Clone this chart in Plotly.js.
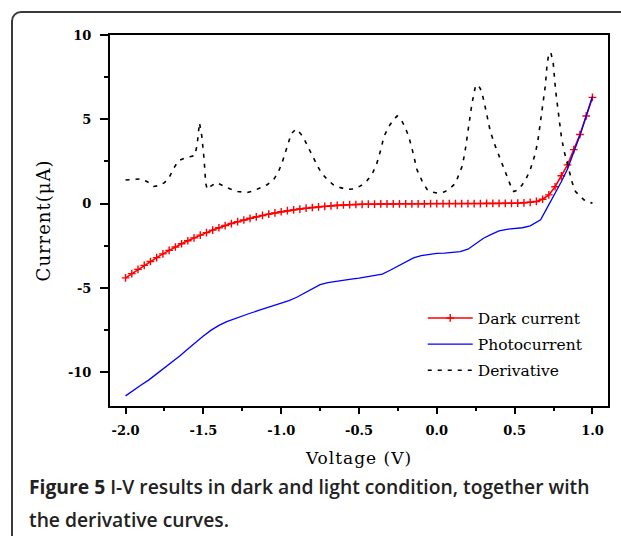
<!DOCTYPE html>
<html>
<head>
<meta charset="utf-8">
<script src="https://cdn.plot.ly/plotly-3.0.1.min.js"></script>
<style>
  html, body { margin: 0; padding: 0; background: #fff; }
  #wrap { position: relative; width: 621px; height: 536px; overflow: hidden; }
  #chart { position: absolute; left: 0; top: 0; width: 621px; height: 536px; }
  #frame { position: absolute; left: 11px; top: 11px; width: 700px; height: 600px;
           border: 2px solid #3a3a3a; border-radius: 10px; pointer-events: none; box-sizing: border-box; }
  .xtitle, .ytitle { letter-spacing: 1px; }
</style>
</head>
<body>
<div id="wrap">
  <div id="chart"></div>
  <div id="frame"></div>
</div>
<script>
// ---- data ----
const darkV = [-2.00,-1.96,-1.92,-1.88,-1.84,-1.80,-1.76,-1.72,-1.68,-1.64,-1.60,-1.56,-1.52,-1.48,-1.44,-1.40,-1.36,-1.32,-1.28,-1.24,
  -1.20,-1.16,-1.12,-1.08,-1.04,-1.00,-0.96,-0.92,-0.88,-0.84,-0.80,-0.76,-0.72,-0.68,-0.64,-0.60,-0.56,-0.52,-0.48,-0.44,
  -0.40,-0.36,-0.32,-0.28,-0.24,-0.20,-0.16,-0.12,-0.08,-0.04,0.00,0.04,0.08,0.12,0.16,0.20,0.24,0.28,0.32,0.36,
  0.40,0.44,0.48,0.52,0.56,0.60,0.64,0.68,0.72,0.76,0.80,0.84,0.88,0.92,0.96,1.00];
const darkI = [-4.40,-4.15,-3.90,-3.66,-3.43,-3.20,-2.98,-2.77,-2.57,-2.38,-2.20,-2.03,-1.87,-1.72,-1.57,-1.43,-1.30,-1.18,-1.07,-0.97,
  -0.87,-0.78,-0.70,-0.62,-0.55,-0.48,-0.42,-0.37,-0.32,-0.27,-0.23,-0.19,-0.16,-0.13,-0.10,-0.08,-0.06,-0.05,-0.04,-0.03,
  -0.03,-0.02,-0.02,-0.02,-0.01,-0.01,-0.01,-0.01,-0.01,0.00,0.00,0.00,0.00,0.00,0.00,0.00,0.00,0.00,0.01,0.01,
  0.01,0.02,0.02,0.03,0.05,0.08,0.13,0.26,0.52,1.00,1.65,2.30,3.20,4.10,5.20,6.30];

const photoV = [-2.00,-1.95,-1.90,-1.85,-1.80,-1.75,-1.70,-1.65,-1.60,-1.55,-1.50,-1.45,-1.40,-1.35,-1.30,-1.25,-1.20,-1.15,-1.10,-1.05,
  -1.00,-0.95,-0.90,-0.85,-0.80,-0.75,-0.70,-0.65,-0.60,-0.55,-0.50,-0.45,-0.40,-0.35,-0.30,-0.25,-0.20,-0.15,-0.10,-0.05,
  0.00,0.05,0.10,0.15,0.20,0.25,0.30,0.35,0.40,0.45,0.50,0.55,0.60,0.64,0.667,0.70,0.73,0.76,0.80,0.84,0.88,0.92,0.96,1.00];
const photoI = [-11.40,-11.05,-10.75,-10.45,-10.10,-9.75,-9.40,-9.02,-8.62,-8.22,-7.85,-7.50,-7.22,-7.00,-6.82,-6.65,-6.50,-6.35,-6.20,-6.05,
  -5.92,-5.75,-5.55,-5.30,-5.05,-4.80,-4.68,-4.60,-4.55,-4.48,-4.42,-4.35,-4.28,-4.18,-3.95,-3.70,-3.45,-3.22,-3.08,-3.00,
  -2.95,-2.93,-2.90,-2.85,-2.70,-2.35,-2.05,-1.82,-1.62,-1.52,-1.48,-1.43,-1.32,-1.12,-0.96,-0.40,0.10,0.60,1.30,2.05,3.00,4.05,5.20,6.35];

const derivV = [-2.00,-1.95,-1.90,-1.86,-1.82,-1.78,-1.75,-1.72,-1.69,-1.66,-1.62,-1.58,-1.555,-1.54,-1.525,-1.51,-1.495,-1.485,-1.475,-1.45,
  -1.415,-1.37,-1.33,-1.28,-1.22,-1.18,-1.14,-1.09,-1.05,-1.02,-0.995,-0.965,-0.935,-0.905,-0.875,-0.855,-0.825,-0.795,-0.765,-0.74,
  -0.70,-0.665,-0.62,-0.575,-0.53,-0.49,-0.45,-0.415,-0.385,-0.36,-0.34,-0.31,-0.28,-0.255,-0.23,-0.205,-0.18,-0.155,-0.127,-0.095,
  -0.063,-0.03,0.01,0.05,0.09,0.12,0.14,0.162,0.18,0.195,0.21,0.226,0.248,0.265,0.28,0.291,0.307,0.323,0.344,0.377,
  0.409,0.43,0.452,0.475,0.494,0.52,0.548,0.575,0.60,0.634,0.652,0.667,0.687,0.698,0.708,0.72,0.733,0.748,0.763,0.784,
  0.80,0.816,0.848,0.87,0.891,0.92,0.945,0.97,1.00];
const derivI = [1.40,1.45,1.47,1.30,1.02,1.08,1.25,1.55,2.10,2.55,2.70,2.80,2.85,3.50,4.80,4.00,2.60,1.20,0.85,1.05,
  1.25,1.05,0.88,0.72,0.66,0.75,0.92,1.12,1.40,1.85,2.40,3.30,4.15,4.42,4.15,3.88,3.30,2.75,2.20,1.80,
  1.40,1.12,0.95,0.84,0.88,1.05,1.35,1.75,2.40,3.20,3.97,4.55,4.95,5.20,5.00,4.55,3.97,3.10,2.00,1.35,
  0.85,0.68,0.62,0.70,0.95,1.21,1.65,2.20,3.00,3.97,4.90,5.95,6.94,7.05,6.80,6.54,5.90,5.16,4.27,3.38,
  2.60,2.10,1.60,1.05,0.72,0.80,1.11,1.50,2.00,3.00,3.90,4.96,6.15,7.04,8.20,8.92,8.95,8.33,6.74,4.96,
  4.00,3.19,2.00,1.25,0.72,0.45,0.23,0.10,0.03];

const xTickVals = [-2.0,-1.5,-1.0,-0.5,0.0,0.5,1.0];
const xTickText = ['-2.0','-1.5','-1.0','-0.5','0.0','0.5','1.0'];
const yTickVals = [-10,-5,0,5,10];
const yTickText = ['-10','-5','0','5','10'];

const seriesNames = ['Dark current','Photocurrent','Derivative'];
const captionLine1 = '<b>Figure 5</b> I-V results in dark and light condition, together with';
const captionLine2 = 'the derivative curves.';

// ---- chart ----
const serif = 'DejaVu Serif, serif';
const traces = [
  { x: darkV, y: darkI, name: seriesNames[0], type: 'scatter', mode: 'lines+markers',
    legendgroup: 'a',
    line: { color: '#ff0000', width: 1.6 },
    marker: { symbol: 'cross-thin', size: 5.5, color: '#ff0000', line: { color: '#ff0000', width: 1.4 } } },
  { x: photoV, y: photoI, name: seriesNames[1], type: 'scatter', mode: 'lines',
    legendgroup: 'b',
    line: { color: '#0000ff', width: 1.3 } },
  { x: derivV, y: derivI, name: seriesNames[2], type: 'scatter', mode: 'lines',
    legendgroup: 'c',
    line: { color: '#000000', width: 1.6, dash: '4px,6px' } }
];

const axisCommon = {
  showgrid: false, zeroline: false, showline: true, linecolor: '#000', linewidth: 2, mirror: true,
  ticks: 'outside', tickcolor: '#000', tickwidth: 2,
  tickfont: { family: serif, size: 13, color: '#000', weight: 'bold' },
  tickmode: 'array'
};

const layout = {
  width: 621, height: 536,
  margin: { l: 110, r: 13, t: 35, b: 130 },
  paper_bgcolor: '#fff', plot_bgcolor: '#fff',
  showlegend: true,
  xaxis: Object.assign({}, axisCommon, {
    range: [-2.1, 1.1], tickvals: xTickVals, ticktext: xTickText, ticklen: 6, ticklabelstandoff: 5,
    minor: { dtick: 0.25, ticks: 'outside', ticklen: 3, tickwidth: 2, tickcolor: '#000' },
    title: { text: 'Voltage (V)', font: { family: serif, size: 17, color: '#000' }, standoff: 16 }
  }),
  yaxis: Object.assign({}, axisCommon, {
    range: [-12, 10], tickvals: yTickVals, ticktext: yTickText, ticklen: 8, ticklabelstandoff: 6,
    minor: { dtick: 2.5, ticks: 'outside', ticklen: 4, tickwidth: 2, tickcolor: '#000' },
    title: { text: 'Current(μA)', font: { family: serif, size: 18, color: '#000' }, standoff: 13 }
  }),
  legend: {
    x: 0.628, y: 0.282, xanchor: 'left', yanchor: 'top',
    bgcolor: 'rgba(0,0,0,0)', borderwidth: 0,
    font: { family: serif, size: 15.5, color: '#000' },
    traceorder: 'grouped', tracegroupgap: 3, itemwidth: 45
  },
  annotations: [
    { text: captionLine1, xref: 'paper', yref: 'paper', x: (27 - 110) / 498, y: (406 - 487) / 371,
      xanchor: 'left', yanchor: 'middle', showarrow: false,
      font: { family: 'Open Sans, sans-serif', size: 19.3, color: '#222', weight: 600 } },
    { text: captionLine2, xref: 'paper', yref: 'paper', x: (27 - 110) / 498, y: (406 - 519) / 371,
      xanchor: 'left', yanchor: 'middle', showarrow: false,
      font: { family: 'Open Sans, sans-serif', size: 19.3, color: '#222', weight: 600 } }
  ]
};

Plotly.newPlot('chart', traces, layout, { staticPlot: true, displayModeBar: false });
</script>
</body>
</html>
